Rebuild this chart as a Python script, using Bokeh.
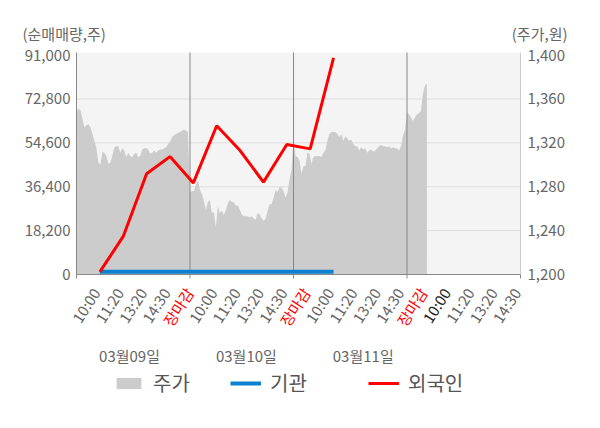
from bokeh.plotting import figure
from bokeh.models import Range1d, Legend, LegendItem
from bokeh.core.properties import value
from bokeh.embed import file_html
from bokeh.resources import INLINE

FONT = "Noto Sans CJK KR"

# ---------------- data ----------------
slot_labels = ["10:00", "11:20", "13:20", "14:30", "장마감",
               "10:00", "11:20", "13:20", "14:30", "장마감",
               "10:00", "11:20", "13:20", "14:30", "장마감",
               "10:00", "11:20", "13:20", "14:30"]
slot_colors = ["#666666"] * 4 + ["#ff0000"] + ["#666666"] * 4 + ["#ff0000"] + \
              ["#666666"] * 4 + ["#ff0000"] + ["#222222"] + ["#666666"] * 3
day_labels = ["03월09일", "03월10일", "03월11일"]

# net buying (shares) per time slot
foreign = [1100, 15800, 41800, 48900, 38000, 61700, 51400, 38300, 53900, 52100, 89800]
institution = [1100, 1100, 1100, 1100, 1100, 1100, 1100, 1100, 1100, 1100, 1100]

# intraday price (won), one value per sample
price_day1 = [1349, 1351, 1350, 1342, 1334, 1336, 1337, 1334, 1328, 1322,
              1315, 1302, 1300, 1312, 1311, 1308, 1301, 1302, 1308, 1316,
              1317, 1317, 1311, 1315, 1313, 1307, 1311, 1308, 1307, 1310,
              1311, 1307, 1308, 1314, 1315, 1315, 1314, 1310, 1311, 1313,
              1311, 1313, 1314, 1314, 1315, 1316, 1319, 1321, 1325, 1327,
              1328, 1329, 1330, 1331, 1332, 1331, 1330]
price_day2 = [1275, 1276, 1276, 1282, 1286, 1277, 1273, 1267, 1259, 1266,
              1268, 1256, 1257, 1243, 1262, 1256, 1258, 1254, 1259, 1265,
              1268, 1266, 1266, 1263, 1263, 1259, 1255, 1253, 1253, 1253,
              1252, 1253, 1251, 1250, 1256, 1255, 1251, 1249, 1251, 1258,
              1264, 1264, 1270, 1277, 1275, 1280, 1279, 1276, 1270, 1275,
              1287, 1296]
price_day3 = [1324, 1308, 1307, 1304, 1292, 1299, 1299, 1311, 1310, 1301,
              1307, 1308, 1308, 1308, 1307, 1311, 1313, 1322, 1328, 1330,
              1330, 1330, 1328, 1325, 1328, 1322, 1326, 1324, 1322, 1323,
              1319, 1317, 1317, 1313, 1316, 1314, 1315, 1311, 1313, 1314,
              1312, 1313, 1315, 1317, 1318, 1317, 1317, 1316, 1317, 1315,
              1316, 1315, 1315, 1313, 1317, 1327, 1332]
price_day4 = [1348, 1346, 1343, 1340, 1343, 1346, 1347, 1349, 1365, 1372, 1374]

left_ticks = [0, 18200, 36400, 54600, 72800, 91000]
right_ticks = [1200, 1240, 1280, 1320, 1360, 1400]

# ---------------- geometry (pixels) ----------------
W, H = 584, 412
PL, PT = 76, 52                  # plot-area offsets inside the canvas
PW, PH = 444, 222
PR, PB = W - PL - PW, H - PT - PH

FULL_DAY = len(price_day1)
days = [price_day1, price_day2, price_day3, price_day4]
px, py, day_starts = [], [], []
start = 0
for d in days:
    day_starts.append(start)
    px.extend(start + i for i in range(len(d)))
    py.extend(d)
    start += len(d)
x_end = day_starts[-1] + FULL_DAY
bounds = day_starts[1:]

Y_TOP = 92075
P_LO, P_HI = 1200, 1200 + 200 * Y_TOP / 91000
N_SLOT = len(slot_labels)


def ext(lo, hi, span_px, before, after):
    k = span_px / (hi - lo)
    return Range1d(lo - before / k, hi + after / k)


ky = PH / Y_TOP          # px per share-unit


def dy(pix):             # pixel distance -> left-axis data units
    return pix / ky


p = figure(width=W, height=H, output_backend="svg", toolbar_location=None,
           x_range=ext(0, x_end, PW, PL, PR), y_range=ext(0, Y_TOP, PH, PB, PT),
           x_axis_type=None, y_axis_type=None, min_border=0,
           background_fill_color="white", border_fill_color="white",
           outline_line_color=None)
p.grid.visible = False
p.extra_x_ranges = {"cat": ext(-1, N_SLOT - 1, PW, PL, PR)}
p.extra_y_ranges = {"price": ext(P_LO, P_HI, PH, PB, PT)}

# plot background
p.quad(left=[0], right=[x_end], bottom=[0], top=[Y_TOP],
       fill_color="#f4f4f4", line_color=None)
# horizontal grid
grid_t = left_ticks[1:-1]
p.segment(x0=[0] * len(grid_t), x1=[x_end] * len(grid_t), y0=grid_t, y1=grid_t,
          line_color="#dddddd", line_width=1)

area = p.varea(x=px, y1=[P_LO] * len(py), y2=py, y_range_name="price",
               fill_color="#cccccc")

# day separators (with tick below the axis)
p.segment(x0=bounds, x1=bounds, y0=[-dy(4)] * len(bounds), y1=[Y_TOP] * len(bounds),
          line_color="#888888", line_width=1)
edge = [0, x_end]
p.segment(x0=edge, x1=edge, y0=[-dy(4)] * 2, y1=[0, 0], line_color="#888888")
# axis lines
p.segment(x0=[0], x1=[0], y0=[0], y1=[Y_TOP], line_color="#888888")
p.segment(x0=[x_end], x1=[x_end], y0=[0], y1=[Y_TOP], line_color="#cccccc")
p.segment(x0=[0], x1=[x_end], y0=[0], y1=[0], line_color="#888888")

cat_x = list(range(len(foreign)))
l_inst = p.line(cat_x, institution, x_range_name="cat", line_color="#0b80d0",
                line_width=4)
l_for = p.line(cat_x, foreign, x_range_name="cat", line_color="#ff0000",
               line_width=3)

txt = dict(text_font=value(FONT), text_font_size=value("15px"))

# left / right tick labels
p.text(x=[0] * len(left_ticks), y=left_ticks, text=[f"{t:,}" for t in left_ticks],
       x_offset=-6, text_align="right", text_baseline="middle",
       text_color="#666666", **txt)
p.text(x=[x_end] * len(right_ticks), y=right_ticks, text=[f"{t:,}" for t in right_ticks],
       x_offset=7, y_range_name="price", text_align="left", text_baseline="middle",
       text_color="#666666", **txt)

# rotated time labels
p.text(x=list(range(N_SLOT)), y=[-dy(15)] * N_SLOT, text=slot_labels,
       x_range_name="cat", angle=57, angle_units="deg", x_offset=-4,
       text_align="right", text_baseline="middle", text_color=slot_colors, **txt)

# date labels
p.text(x=[5 * k + 1.27 for k in range(len(day_labels))], y=[-dy(81)] * len(day_labels),
       text=day_labels, x_range_name="cat", text_align="center",
       text_baseline="middle", text_color="#666666", **txt)

# axis titles
p.text(x=[0], y=[Y_TOP + dy(19)], text=["(순매매량,주)"], x_offset=-54,
       text_align="left", text_baseline="middle", text_color="#666666", **txt)
p.text(x=[x_end], y=[Y_TOP + dy(19)], text=["(주가,원)"], x_offset=47,
       text_align="right", text_baseline="middle", text_color="#666666", **txt)

# legends
for name, rend, vx in [("주가", area, 113), ("기관", l_inst, 230), ("외국인", l_for, 368)]:
    lg = Legend(items=[LegendItem(label=name, renderers=[rend])],
                location=(vx, 15), orientation="horizontal",
                glyph_width=31, glyph_height=14, label_height=14,
                label_standoff=9, padding=0, margin=0, spacing=0,
                border_line_color=None, background_fill_alpha=0,
                label_text_font=FONT, label_text_font_size="20px",
                label_text_color="#555555")
    p.add_layout(lg, "center")

open("out.html", "w").write(file_html(p, INLINE))
